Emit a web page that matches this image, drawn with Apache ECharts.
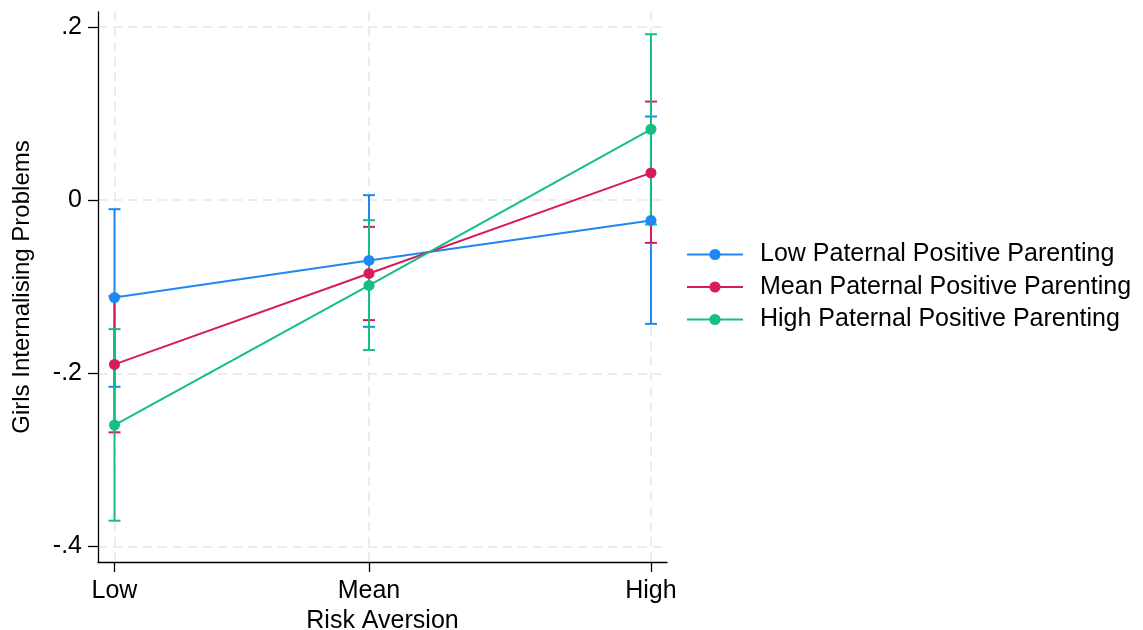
<!DOCTYPE html>
<html>
<head>
<meta charset="utf-8">
<script src="https://cdn.jsdelivr.net/npm/echarts@6/dist/echarts.min.js"></script>
<style>
  html, body { margin: 0; padding: 0; background: #fff; }
  #main { width: 1143px; height: 630px; }
</style>
</head>
<body>
<div id="main"></div>
<script>
// risk aversion levels (x positions in SD units) and their labels
var riskX = [-1, 0, 1.108];
var riskLabels = ['Low', 'Mean', 'High'];
var yTicks = [-0.4, -0.2, 0, 0.2];

var seriesNames = [
    'Low Paternal Positive Parenting',
    'Mean Paternal Positive Parenting',
    'High Paternal Positive Parenting'
];
var colors = ['#1f87f2', '#d81b60', '#14bf80'];

// predicted margins and 95% CI
var lowPP = [-0.1125, -0.0696, -0.0234];
var lowPPLo = [-0.2155, -0.1462, -0.1428];
var lowPPHi = [-0.0104, 0.0058, 0.0966];

var meanPP = [-0.1896, -0.0846, 0.0315];
var meanPPLo = [-0.2681, -0.1385, -0.0493];
var meanPPHi = [-0.1108, -0.0308, 0.1139];

var highPP = [-0.2597, -0.0985, 0.0819];
var highPPLo = [-0.3701, -0.1731, -0.0280];
var highPPHi = [-0.1489, -0.0231, 0.1916];

var est = [lowPP, meanPP, highPP];
var los = [lowPPLo, meanPPLo, highPPLo];
var his = [lowPPHi, meanPPHi, highPPHi];

function capItem(params, api) {
    var a = api.coord([api.value(0), api.value(1)]);
    var b = api.coord([api.value(0), api.value(2)]);
    var w = 6;
    var st = { stroke: api.visual('color'), lineWidth: 2, fill: null };
    return {
        type: 'group',
        children: [
            { type: 'line', shape: { x1: a[0], y1: a[1], x2: b[0], y2: b[1] }, style: st },
            { type: 'line', shape: { x1: a[0] - w, y1: a[1], x2: a[0] + w, y2: a[1] }, style: st },
            { type: 'line', shape: { x1: b[0] - w, y1: b[1], x2: b[0] + w, y2: b[1] }, style: st }
        ]
    };
}

var series = [];
for (var i = 0; i < 3; i++) {
    series.push({
        name: seriesNames[i] + ' CI',
        type: 'custom',
        renderItem: capItem,
        itemStyle: { color: colors[i] },
        data: riskX.map(function (x, j) { return [x, los[i][j], his[i][j]]; }),
        z: 2
    });
}
for (var i = 0; i < 3; i++) {
    series.push({
        name: seriesNames[i],
        type: 'line',
        symbol: 'circle',
        symbolSize: 11,
        lineStyle: { width: 2, color: colors[i] },
        itemStyle: { color: colors[i] },
        data: riskX.map(function (x, j) { return [x, est[i][j]]; }),
        z: 3
    });
}

var gridLine = { show: true, lineStyle: { color: '#e6e6e6', width: 1.5, type: [9, 6] } };

var myChart = echarts.init(document.getElementById('main'));
option = {
    animation: false,
    backgroundColor: '#fff',
    grid: { left: 98, right: 476, top: 12, bottom: 68, outerBoundsMode: 'none', containLabel: false },
    legend: {
        orient: 'vertical',
        left: 681,
        top: 237,
        itemWidth: 56,
        itemHeight: 14,
        itemGap: 7.5,
        data: seriesNames,
        textStyle: { fontFamily: 'Liberation Sans', fontSize: 25, color: '#000', padding: [0, 0, 0, 12] }
    },
    xAxis: {
        type: 'value',
        min: -1.0648,
        max: 1.171,
        name: 'Risk Aversion',
        nameLocation: 'middle',
        nameGap: 46,
        nameTextStyle: { fontFamily: 'Liberation Sans', fontSize: 25, color: '#000' },
        axisLine: { onZero: false, lineStyle: { color: '#000', width: 1.3 } },
        axisTick: { customValues: riskX, length: 10, lineStyle: { color: '#000', width: 1.3 } },
        axisLabel: {
            customValues: riskX,
            margin: 17,
            fontFamily: 'Liberation Sans', fontSize: 25, color: '#000',
            formatter: function (v) {
                var k = riskX.indexOf(v);
                return k >= 0 ? riskLabels[k] : '';
            }
        },
        splitLine: gridLine
    },
    yAxis: {
        type: 'value',
        min: -0.4178,
        max: 0.2173,
        name: 'Girls Internalising Problems',
        nameLocation: 'middle',
        nameGap: 64,
        nameTextStyle: { fontFamily: 'Liberation Sans', fontSize: 24, color: '#000' },
        axisLine: { show: true, onZero: false, lineStyle: { color: '#000', width: 1.3 } },
        axisTick: { show: true, customValues: yTicks, length: 10, lineStyle: { color: '#000', width: 1.3 } },
        axisLabel: {
            customValues: yTicks,
            margin: 16,
            fontFamily: 'Liberation Sans', fontSize: 25, color: '#000',
            formatter: function (v) {
                if (Math.abs(v) < 1e-9) return '0';
                return (v < 0 ? '-' : '') + String(Math.abs(v)).replace(/^0/, '');
            }
        },
        splitLine: gridLine
    },
    series: series
};
myChart.setOption(option);
</script>
</body>
</html>
